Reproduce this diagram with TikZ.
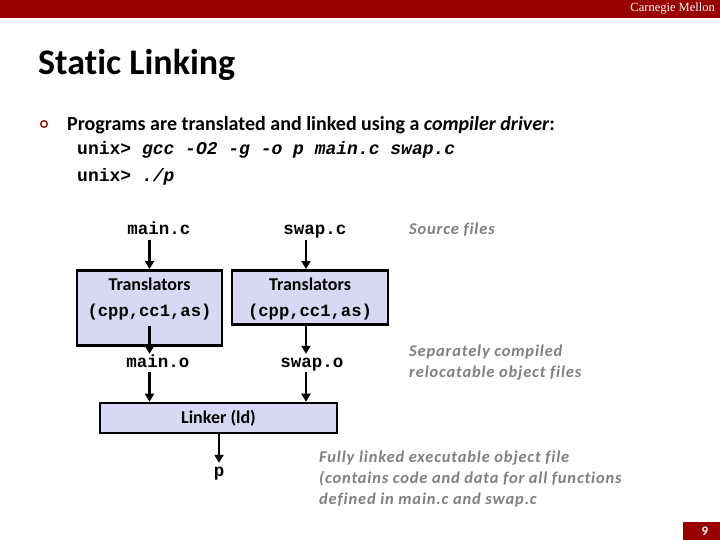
\documentclass[tikz,border=0pt]{standalone}
\usepackage{fontspec}
\setmainfont{Carlito}[Ligatures=NoCommon]
\setmonofont{Liberation Mono}
\newfontfamily\cmufont{Liberation Serif}
\newfontfamily\notefont{Carlito}[Ligatures=NoCommon, LetterSpace=5]
\usetikzlibrary{arrows.meta,positioning,calc}

\definecolor{cmured}{RGB}{153,0,0}
\definecolor{boxfill}{RGB}{216,216,244}
\definecolor{notegray}{RGB}{128,128,128}

\newcommand{\toolset}{{\ttfamily\fontsize{17.2}{26}\selectfont (cpp,cc1,as)}}

\tikzset{
  stage/.style={draw=black, line width=2.6pt, fill=boxfill, align=center, inner xsep=0pt, inner ysep=5.5pt,
    font=\fontsize{18}{26}\selectfont\bfseries},
  file/.style={inner sep=2pt, text height=11pt, text depth=3pt, font=\fontsize{17.5}{20}\selectfont\ttfamily\bfseries},
  note/.style={notegray, anchor=west, align=left, inner sep=0pt, font=\notefont\fontsize{16.5}{21}\selectfont\bfseries\itshape},
  flow/.style={line width=2.6pt, -{Triangle[width=9pt,length=8pt]}},
}

\begin{document}
\begin{tikzpicture}[x=1pt, y=-1pt]
\useasboundingbox (0,0) rectangle (720,540);

% Header bar and page number
\fill[cmured] (0,0) rectangle (720,18);
\node[white, anchor=east, inner sep=0pt, font=\cmufont\fontsize{12.5}{12}\selectfont] (brand) at (715,9) {Carnegie Mellon};
\fill[cmured] (683,522) rectangle (720,540);
\node[white, inner sep=0pt, font=\fontsize{13}{13}\selectfont\bfseries] (pagenum) at (705,531) {9};

% Title and bullet
\node[anchor=base west, inner sep=0pt, font=\fontsize{36}{40}\selectfont\bfseries] (title) at (38,75) {Static Linking};
\draw[cmured, line width=1.3pt] (44,124) circle (3.3);
\node[anchor=base west, inner sep=0pt, font=\fontsize{20}{24}\selectfont\bfseries] (intro) at (67,131)
  {Programs are translated and linked using a \textit{compiler driver}:};
\node[anchor=base west, inner sep=0pt, font=\fontsize{18}{22}\selectfont\ttfamily\bfseries] (cmd1) at (77,155)
  {unix> \textit{gcc -O2 -g -o p main.c swap.c}};
\node[anchor=base west, inner sep=0pt, font=\fontsize{18}{22}\selectfont\ttfamily\bfseries] (cmd2) at (77,182)
  {unix> \textit{./p}};

% Source files
\node[file] (mainc) at (159,231) {main.c};
\node[file] (swapc) at (315,231) {swap.c};

% Translators
\node[stage, minimum width=145pt, anchor=north, text height=41pt, text depth=23pt] (lt) at (149.5,269)
  {Translators\\\toolset};
\node[stage, minimum width=156pt, anchor=north, text height=41pt, text depth=2pt] (rt) at (310,269)
  {Translators\\\toolset};

% Object files
\node[file] (maino) at (158,363) {main.o};
\node[file] (swapo) at (312,363) {swap.o};

% Linker
\node[stage, minimum width=237pt, minimum height=30pt, inner ysep=0pt] (ld) at (218.5,418) {Linker (ld)};
\node[file] (prog) at (219,472) {p};

% Connectors
\draw[flow] (mainc.south -| lt.north) -- (lt.north);
\draw[flow] ([xshift=-4pt]swapc.south -| rt.north) -- ([xshift=-4pt]rt.north);
\draw[flow] (lt.center |- rt.south) -- (maino.north -| lt.center);
\draw[flow] ([xshift=-4pt]rt.south) -- ([xshift=-4pt]rt.south |- swapo.north);
\draw[flow] (maino.south -| lt.center) -- (ld.north -| lt.center);
\draw[flow] ([xshift=-4pt]rt.south |- swapo.south) -- ([xshift=-4pt]rt.south |- ld.north);
\draw[flow] (ld.south -| prog.north) -- (prog.north);

% Notes
\node[note] (srcnote) at (409,229.5) {Source files};
\node[note] (objnote) at (409,363) {Separately compiled\\relocatable object files};
\node[note] (exenote) at (319,479) {Fully linked executable object file\\(contains code and data for all functions\\defined in main.c and swap.c};
\end{tikzpicture}
\end{document}
